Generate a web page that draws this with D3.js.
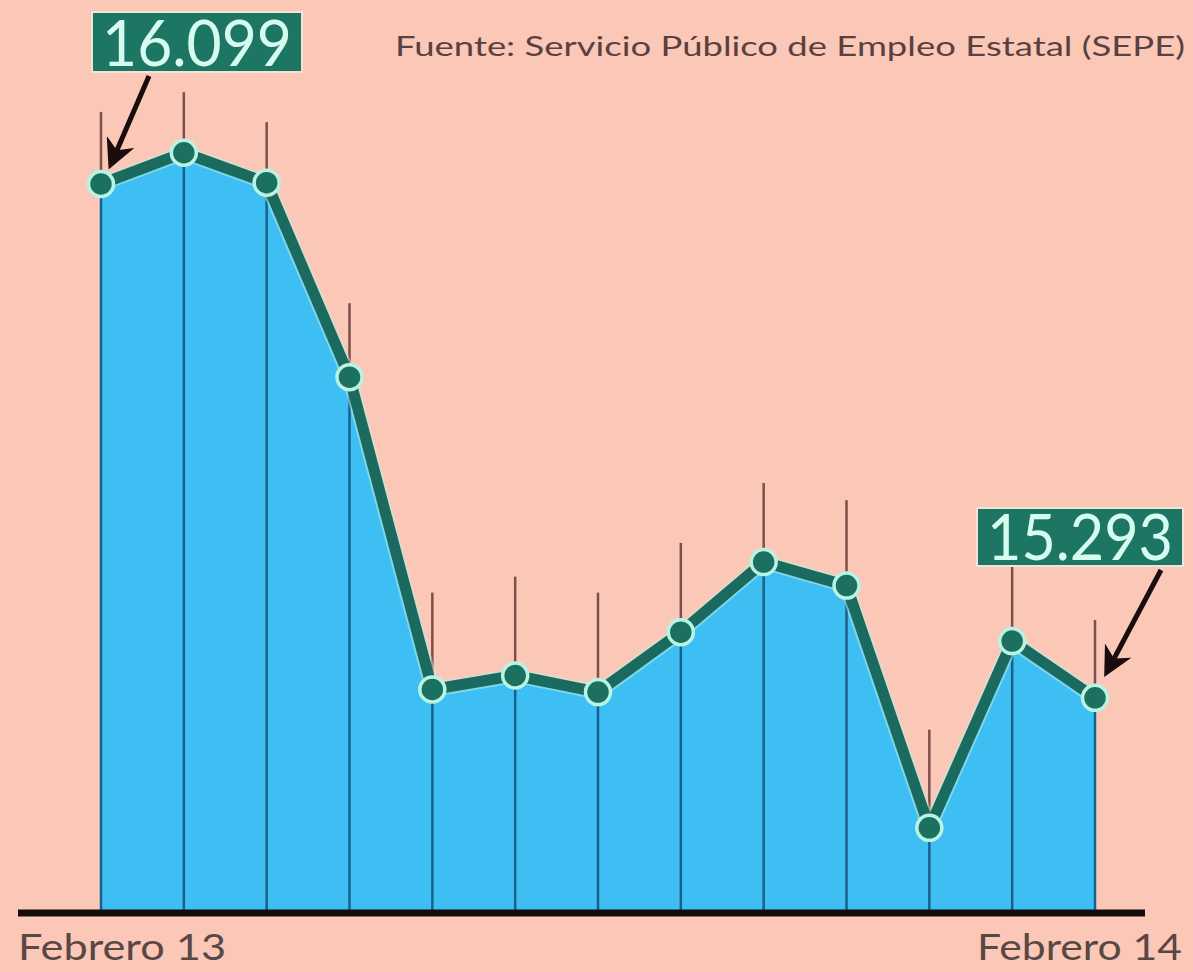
<!DOCTYPE html>
<html>
<head>
<meta charset="utf-8">
<script src="https://cdn.jsdelivr.net/npm/d3@7"></script>
<style>
  html, body { margin: 0; padding: 0; background: #fbc8b8; }
  svg { display: block; }
</style>
</head>
<body>
<svg id="chart" width="1193" height="972"></svg>
<script>
// ---- data ----
const months = ["feb-13","mar-13","abr-13","may-13","jun-13","jul-13","ago-13","sep-13","oct-13","nov-13","dic-13","ene-14","feb-14"];
const values = [16.099, 16.148, 16.101, 15.796, 15.306, 15.328, 15.302, 15.396, 15.506, 15.469, 15.089, 15.382, 15.293];
// top of the thin decorative stems above each point (same units as values)
const stemTops = [16.212, 16.243, 16.196, 15.912, 15.458, 15.483, 15.458, 15.536, 15.630, 15.603, 15.243, 15.502, 15.415];
const startLabel = "Febrero 13";
const endLabel = "Febrero 14";
const sourceText = "Fuente: Servicio Público de Empleo Estatal (SEPE)";
const firstValueLabel = "16.099";
const lastValueLabel = "15.293";
const yBase = 14.957;

// ---- scales ----
const svg = d3.select("#chart");
const x = d3.scalePoint().domain(months).range([101, 1095]);
const y = d3.scaleLinear().domain([yBase, 16.099]).range([912, 184]);

const data = months.map((m, i) => ({ m, v: values[i], top: stemTops[i] }));

svg.append("rect").attr("width", 1193).attr("height", 972).attr("fill", "#fbc8b8");

// area
const area = d3.area().x(d => x(d.m)).y0(y(yBase)).y1(d => y(d.v));
svg.append("path").datum(data).attr("d", area).attr("fill", "#3dbff3");

// stems above points (brownish)
svg.append("g").selectAll("line").data(data).join("line")
  .attr("x1", d => x(d.m)).attr("x2", d => x(d.m))
  .attr("y1", d => y(d.top)).attr("y2", d => y(d.v))
  .attr("stroke", "#7d4f4a").attr("stroke-width", 2.5);

// drop lines inside area
svg.append("g").selectAll("line").data(data).join("line")
  .attr("x1", d => x(d.m)).attr("x2", d => x(d.m))
  .attr("y1", d => y(d.v)).attr("y2", y(yBase))
  .attr("stroke", "#17618a").attr("stroke-width", 2.5);

// line (light halo + dark teal)
const line = d3.line().x(d => x(d.m)).y(d => y(d.v));
svg.append("path").datum(data).attr("d", line).attr("fill", "none")
  .attr("stroke", "#bfeee0").attr("stroke-width", 15).attr("stroke-linejoin", "round").attr("opacity", 0.5);
svg.append("path").datum(data).attr("d", line).attr("fill", "none")
  .attr("stroke", "#1b6a5f").attr("stroke-width", 11).attr("stroke-linejoin", "round");

// baseline
svg.append("line").attr("x1", 18).attr("x2", 1145)
  .attr("y1", y(yBase) + 1).attr("y2", y(yBase) + 1)
  .attr("stroke", "#140c0c").attr("stroke-width", 7);

// markers
svg.append("g").selectAll("circle").data(data).join("circle")
  .attr("cx", d => x(d.m)).attr("cy", d => y(d.v)).attr("r", 12.5)
  .attr("fill", "#1c705f").attr("stroke", "#b9f3e4").attr("stroke-width", 3.5);

// arrow marker
const defs = svg.append("defs");
defs.append("marker").attr("id", "arr").attr("viewBox", "0 0 10 10")
  .attr("refX", 8).attr("refY", 5).attr("markerWidth", 6).attr("markerHeight", 6)
  .attr("orient", "auto").attr("markerUnits", "strokeWidth")
  .append("path").attr("d", "M0,0 L10,5 L0,10 L3,5 Z").attr("fill", "#1a0c0c");

const FONT = "Lato, 'Open Sans', sans-serif";

// value label boxes
function valueLabel(text, bx, by, bw, bh, ax1, ay1, ax2, ay2) {
  svg.append("line").attr("x1", ax1).attr("y1", ay1).attr("x2", ax2).attr("y2", ay2)
    .attr("stroke", "#1a0c0c").attr("stroke-width", 5).attr("marker-end", "url(#arr)");
  svg.append("rect").attr("x", bx).attr("y", by).attr("width", bw).attr("height", bh)
    .attr("fill", "#1d7663").attr("stroke", "#f3e2d6").attr("stroke-width", 2);
  svg.append("text").attr("x", bx + bw / 2).attr("y", by + bh - 6)
    .attr("text-anchor", "middle").attr("fill", "#d6fbef")
    .attr("font-family", FONT).attr("font-size", 64).attr("font-weight", 400)
    .attr("textLength", bw - 20).attr("lengthAdjust", "spacingAndGlyphs")
    .text(text);
}
const p0 = data[0], pN = data[data.length - 1];
valueLabel(firstValueLabel, x(p0.m) - 9, 12, 210, 60,
  x(p0.m) + 48, 76, x(p0.m) + 10, y(p0.v) - 20);
valueLabel(lastValueLabel, x(pN.m) - 118, 508, 206, 58,
  x(pN.m) + 66, 570, x(pN.m) + 12, y(pN.v) - 26);

// source
svg.append("text").attr("x", 395).attr("y", 56)
  .attr("fill", "#5a403e").attr("font-family", FONT).attr("font-size", 27)
  .attr("textLength", 790).attr("lengthAdjust", "spacingAndGlyphs")
  .text(sourceText);

// x labels
svg.append("text").attr("x", 18).attr("y", 960)
  .attr("fill", "#5a4744").attr("font-family", FONT).attr("font-size", 36)
  .attr("textLength", 208).attr("lengthAdjust", "spacingAndGlyphs")
  .text(startLabel);
svg.append("text").attr("x", 1182).attr("y", 960).attr("text-anchor", "end")
  .attr("fill", "#5a4744").attr("font-family", FONT).attr("font-size", 36)
  .attr("textLength", 205).attr("lengthAdjust", "spacingAndGlyphs")
  .text(endLabel);
</script>
</body>
</html>
